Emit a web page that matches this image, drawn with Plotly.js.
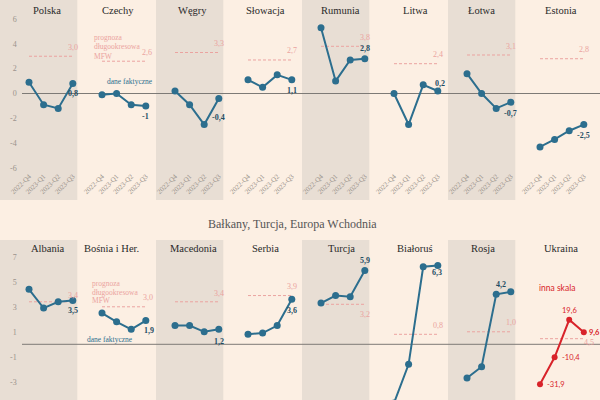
<!DOCTYPE html>
<html><head><meta charset="utf-8">
<script src="https://cdn.plot.ly/plotly-3.0.1.min.js"></script>
<style>html,body{margin:0;padding:0;background:#fcefe3}</style>
</head><body><div id="chart" style="width:600px;height:400px"></div>
<script>
// ---------- DATA ----------
const quarters = ['2022-Q4', '2023-Q1', '2023-Q2', '2023-Q3'];
const topNames = ['Polska', 'Czechy', 'Węgry', 'Słowacja', 'Rumunia', 'Litwa', 'Łotwa', 'Estonia'];
const topValues = [
  [0.9, -0.9, -1.2, 0.8],
  [-0.1, 0.0, -0.9, -1.0],
  [0.2, -0.9, -2.5, -0.4],
  [1.1, 0.5, 1.5, 1.1],
  [5.3, 1.0, 2.7, 2.8],
  [0.0, -2.5, 0.7, 0.2],
  [1.6, 0.0, -1.2, -0.7],
  [-4.3, -3.7, -3.0, -2.5]
];
const topForecast = [3.0, 2.6, 3.3, 2.7, 3.8, 2.4, 3.1, 2.8];
const bottomNames = ['Albania', 'Bośnia i Her.', 'Macedonia', 'Serbia', 'Turcja', 'Białoruś', 'Rosja', 'Ukraina'];
const bottomValues = [
  [4.4, 2.9, 3.4, 3.5],
  [2.5, 1.8, 1.2, 1.9],
  [1.5, 1.5, 1.0, 1.2],
  [0.8, 0.9, 1.5, 3.6],
  [3.3, 3.9, 3.8, 5.9],
  [-4.7, -1.6, 6.2, 6.3],
  [-2.7, -1.8, 4.0, 4.2],
  [-31.9, -10.4, 19.6, 9.6]
];
const bottomForecast = [3.4, 3.0, 3.4, 3.9, 3.2, 0.8, 1.0, 4.5];
const topTicks = [-6, -4, -2, 0, 2, 4, 6];
const topTickText = ['-6', '-4', '-2', '0', '2', '4', '6'];
const bottomTicks = [-3, -1, 1, 3, 5, 7];
const bottomTickText = ['-3', '-1', '1', '3', '5', '7'];
const sectionTitle = 'Bałkany, Turcja, Europa Wchodnia';
const legendForecast = ['prognoza', 'długookresowa', 'MFW'];
const legendActual = 'dane faktyczne';
const otherScale = 'inna skala';

// ---------- LAYOUT CONFIG (positions / styles) ----------
const W = 600, H = 400;
const PITCH = 73, X0 = 21.7, PW = 58.4, STEP = PW / 4;
const UA_SCALE = 10;
const TEAL = '#2c6e8e', DARK = '#1f4d63', PINK = '#eba3a0', RED = '#d8232a';
const BG = '#fcefe3', SHADE = '#e8ded4';
const SERIF = 'Liberation Serif, Times New Roman, serif';
const SANS = 'Lato, Open Sans, sans-serif';
// label offsets in px (dx right, dy down)
const valOffTop = [[0, 10], [0, 11], [0, 19], [0, 11], [0, -10], [2, -8], [0, 11], [0, 11]];
const valOffBot = [[0, 10], [3, 10], [0, 12], [0, 11], [0, -10], [-1, 7], [-10, -7], [10, 0]];
const fcOffTop = [[0, -9], [1, -9], [0, -9], [0, -9], [0, -9], [0, -9], [0, -9], [0, -9]];
const fcOffBot = [[0, -6], [2, -9], [0, -8], [0, -9], [0, 10], [0, -9], [0, -9], [5, 4]];
const titleOffTop = [18, 16, 17, 17, 19, 21, 14, 21];
const titleOffBot = [19, 9, 18, 17, 20, 21, 16, 21];

function px(x) { return x / W; }
function py(y) { return 1 - y / H; }
function fmt(v) { return String(v).replace('.', ','); }
function fmt1(v) { return v.toFixed(1).replace('.', ','); }

const rows = [
  { names: topNames, values: topValues, forecast: topForecast, top: 0, plotBottom: 170,
    shadeBottom: 200, zeroPx: 93.5, ppu: 12.42, ticks: topTicks, tickText: topTickText,
    titleY: 10, showX: true, valOff: valOffTop, fcOff: fcOffTop, titleOff: titleOffTop },
  { names: bottomNames, values: bottomValues, forecast: bottomForecast, top: 240, plotBottom: 400,
    shadeBottom: 400, zeroPx: 344.3, ppu: 12.5, ticks: bottomTicks, tickText: bottomTickText,
    titleY: 248, showX: false, valOff: valOffBot, fcOff: fcOffBot, titleOff: titleOffBot }
];

const data = [];
const layout = {
  width: W, height: H, margin: { l: 0, r: 0, t: 0, b: 0 },
  paper_bgcolor: BG, plot_bgcolor: 'rgba(0,0,0,0)', showlegend: false,
  shapes: [], annotations: [], font: { family: SERIF }
};

rows.forEach((row, r) => {
  const lo = -(row.plotBottom - row.zeroPx) / row.ppu;
  const hi = (row.zeroPx - row.top) / row.ppu;
  row.names.forEach((name, i) => {
    const n = r * 8 + i + 1;
    const xk = 'xaxis' + (n === 1 ? '' : n), yk = 'yaxis' + (n === 1 ? '' : n);
    const xid = 'x' + (n === 1 ? '' : n), yid = 'y' + (n === 1 ? '' : n);
    const a = X0 + PITCH * i;
    const isUA = (r === 1 && i === 7);
    const scale = isUA ? UA_SCALE : 1;
    layout[xk] = {
      domain: [px(a), px(a + PW)], range: [-0.5, 3.5], type: 'category', categoryarray: quarters,
      anchor: yid, showgrid: false, zeroline: false, showline: false, ticks: '',
      showticklabels: row.showX, tickangle: -45,
      tickfont: { family: SERIF, size: 7, color: '#9a938c' }, fixedrange: true
    };
    layout[yk] = {
      domain: [py(row.plotBottom), py(row.top)], range: [lo * scale, hi * scale],
      anchor: xid, showgrid: false, zeroline: false, showline: false, ticks: '',
      showticklabels: i === 0, tickvals: row.ticks, ticktext: row.tickText, ticklabelstandoff: 4,
      tickfont: { family: SERIF, size: 8, color: '#9a938c' }, fixedrange: true
    };
    // shading
    const first = a + STEP / 2, last = a + PW - STEP / 2;
    if (i % 2 === 0) {
      layout.shapes.push({ type: 'rect', xref: 'paper', yref: 'paper', layer: 'below',
        x0: px(i === 0 ? 0 : first - 19), x1: px(last + 4.5), y0: py(row.shadeBottom), y1: py(row.top),
        fillcolor: SHADE, line: { width: 0 } });
    }
    const col = isUA ? RED : TEAL;
    const f = row.forecast[i];
    data.push({ x: [quarters[0], quarters[3]], y: [f, f], xaxis: xid, yaxis: yid, mode: 'lines',
      line: { color: PINK, width: 1, dash: '3px,2px' }, hoverinfo: 'skip' });
    data.push({ x: quarters, y: row.values[i], xaxis: xid, yaxis: yid, mode: 'lines+markers',
      line: { color: col, width: 2 }, marker: { color: col, size: isUA ? 6 : 7 }, hoverinfo: 'skip' });
    // title
    layout.annotations.push({ xref: 'paper', yref: 'paper', x: px(first + row.titleOff[i]), y: py(row.titleY),
      text: name, showarrow: false, xanchor: 'center', yanchor: 'middle',
      font: { family: SERIF, size: 10.5, color: '#2a2a2a' } });
    // forecast label
    layout.annotations.push({ xref: xid, yref: yid, x: quarters[3], y: f, text: fmt1(f), showarrow: false,
      xshift: row.fcOff[i][0], yshift: -row.fcOff[i][1], xanchor: 'center', yanchor: 'middle',
      font: { family: SERIF, size: 8, color: PINK } });
    // value labels
    const vals = row.values[i];
    if (isUA) {
      vals.forEach((v, k) => {
        if (k === 2) {
          layout.annotations.push({ xref: xid, yref: yid, x: quarters[k], y: v, text: fmt(v), showarrow: false,
            xanchor: 'center', yanchor: 'middle', yshift: 9, font: { family: SANS, size: 7.5, color: RED } });
        } else {
          layout.annotations.push({ xref: xid, yref: yid, x: quarters[k], y: v, text: k === 3 ? '<b>' + fmt(v) + '</b>' : fmt(v),
            showarrow: false, xanchor: 'left', yanchor: 'middle', xshift: k === 3 ? 3 : 5,
            font: { family: SANS, size: 7.5, color: RED } });
        }
      });
    } else {
      const v = vals[3];
      layout.annotations.push({ xref: xid, yref: yid, x: quarters[3], y: v, text: '<b>' + fmt(v) + '</b>',
        showarrow: false, xshift: row.valOff[i][0], yshift: -row.valOff[i][1], xanchor: 'center', yanchor: 'middle',
        font: { family: SERIF, size: 8, color: DARK } });
    }
  });
  // zero line across the row
  const yref0 = 'y' + (r === 0 ? '' : 9);
  layout.shapes.push({ type: 'line', xref: 'paper', yref: yref0, layer: 'below',
    x0: px(22), x1: 1, y0: 0, y1: 0, line: { color: '#7d7a76', width: 1 } });
});

// legend-like annotations
function note(x, y, text, color, anchor, family, size) {
  layout.annotations.push({ xref: 'paper', yref: 'paper', x: px(x), y: py(y), text: text, showarrow: false,
    xanchor: anchor, yanchor: 'middle', borderpad: 0, font: { family: family || SERIF, size: size || 7.5, color: color } });
}
[38, 47, 56].forEach((y, k) => note(93, y, legendForecast[k], PINK, 'left'));
note(130, 82, legendActual, TEAL, 'center');
[283, 292, 300].forEach((y, k) => note(91, y, legendForecast[k], PINK, 'left'));
note(110, 339, legendActual, TEAL, 'center');
note(557, 288, otherScale, RED, 'center', SANS, 8.5);
note(292.5, 224, sectionTitle, '#555', 'center', SERIF, 12);

Plotly.newPlot('chart', data, layout, { staticPlot: true, displayModeBar: false });
</script></body></html>
